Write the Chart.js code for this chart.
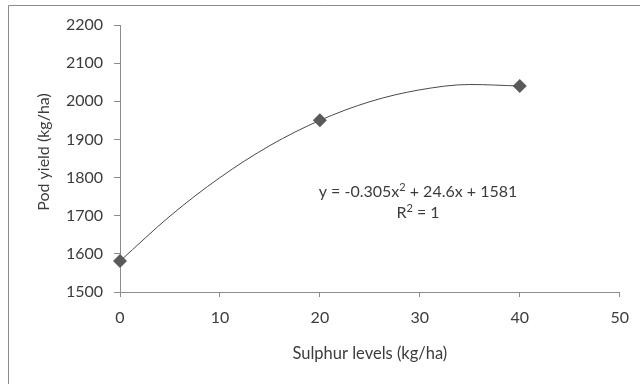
<!DOCTYPE html>
<html>
<head>
<meta charset="utf-8">
<script src="https://cdn.jsdelivr.net/npm/chart.js@4/dist/chart.umd.min.js"></script>
<style>
html,body{margin:0;padding:0;background:#fff;}
canvas{display:block;}
</style>
</head>
<body>
<canvas id="c" width="640" height="384"></canvas>
<script>
// Observed data
const sulphurLevels = [0, 20, 40];
const podYield = [1581, 1950, 2040];
// Trendline values
const trendX = [0, 5, 10, 15, 20, 25, 30, 35, 40];
const trendY = [1581, 1699, 1800, 1884, 1950, 1999, 2030, 2044, 2040];
const xTicks = [0, 10, 20, 30, 40, 50];
const yTicks = [1500, 1600, 1700, 1800, 1900, 2000, 2100, 2200];
const xTitle = 'Sulphur levels (kg/ha)';
const yTitle = 'Pod yield (kg/ha)';
// equation pieces: [text, isSuperscript]
const eqLine1 = [['y = -0.305x', false], ['2', true], [' + 24.6x + 1581', false]];
const eqLine2 = [['R', false], ['2', true], [' = 1', false]];

const FONT = 'Lato';
const TEXT = '#3c3c3c';
const AXIS = '#8c8c8c';

function drawRich(ctx, parts, cx, cy) {
  const base = '16px ' + FONT, sup = '11px ' + FONT;
  let total = 0;
  parts.forEach(([t, s]) => { ctx.font = s ? sup : base; total += ctx.measureText(t).width; });
  let x = cx - total / 2;
  parts.forEach(([t, s]) => {
    ctx.font = s ? sup : base;
    ctx.fillText(t, x, s ? cy - 5 : cy);
    x += ctx.measureText(t).width;
  });
}

const frame = {
  id: 'frame',
  beforeDraw(chart) {
    const ctx = chart.ctx;
    ctx.save();
    ctx.fillStyle = '#fff';
    ctx.fillRect(0, 0, 640, 384);
    ctx.strokeStyle = '#8c8c8c';
    ctx.lineWidth = 1;
    ctx.beginPath();
    ctx.moveTo(8.5, 384);
    ctx.lineTo(8.5, 5.5);
    ctx.lineTo(640, 5.5);
    ctx.stroke();
    // y axis title
    ctx.translate(44, 152);
    ctx.rotate(-Math.PI / 2);
    ctx.fillStyle = TEXT;
    ctx.font = '16px ' + FONT;
    ctx.textAlign = 'center';
    ctx.textBaseline = 'middle';
    ctx.fillText(yTitle, 0, 0);
    ctx.restore();
  },
  afterDatasetsDraw(chart) {
    const ctx = chart.ctx;
    ctx.save();
    ctx.fillStyle = TEXT;
    ctx.textAlign = 'left';
    ctx.textBaseline = 'middle';
    drawRich(ctx, eqLine1, 418, 192);
    drawRich(ctx, eqLine2, 418, 213);
    ctx.restore();
  }
};

new Chart(document.getElementById('c'), {
  type: 'scatter',
  data: {
    datasets: [
      {
        label: 'Pod yield',
        data: sulphurLevels.map((x, i) => ({x, y: podYield[i]})),
        pointStyle: 'rectRot',
        pointRadius: 7,
        backgroundColor: '#5a5a5a',
        borderColor: '#5a5a5a',
        borderWidth: 0,
        clip: false,
        order: 0
      },
      {
        label: 'Trend',
        type: 'line',
        data: trendX.map((x, i) => ({x, y: trendY[i]})),
        borderColor: '#4a4a4a',
        borderWidth: 1,
        pointRadius: 0,
        cubicInterpolationMode: 'monotone',
        fill: false,
        clip: false,
        order: 1
      }
    ]
  },
  options: {
    responsive: false,
    animation: false,
    events: [],
    layout: {padding: {left: 0, right: 20, top: 25, bottom: 0}},
    plugins: {legend: {display: false}, tooltip: {enabled: false}},
    scales: {
      x: {
        type: 'linear',
        min: 0, max: 50,
        afterBuildTicks(s) { s.ticks = xTicks.map(v => ({value: v})); },
        afterFit(s) { s.height = 92; },
        grid: {display: true, drawOnChartArea: false, drawTicks: true, tickLength: 5, color: AXIS},
        border: {display: true, color: AXIS, width: 1},
        ticks: {color: TEXT, font: {family: FONT, size: 16}, padding: 11, maxRotation: 0, autoSkip: false,
                callback: v => String(v)},
        title: {display: true, text: xTitle, color: TEXT, font: {family: FONT, size: 16.5}, padding: {top: 0, bottom: 20}}
      },
      y: {
        type: 'linear',
        min: 1500, max: 2200,
        afterBuildTicks(s) { s.ticks = yTicks.map(v => ({value: v})); },
        afterFit(s) { s.width = 120; },
        grid: {display: true, drawOnChartArea: false, drawTicks: true, tickLength: 6, color: AXIS},
        border: {display: true, color: AXIS, width: 1},
        ticks: {color: TEXT, font: {family: FONT, size: 16}, padding: 11, autoSkip: false,
                callback: v => String(v)},
        title: {display: false}
      }
    }
  },
  plugins: [frame]
});
</script>
</body>
</html>
